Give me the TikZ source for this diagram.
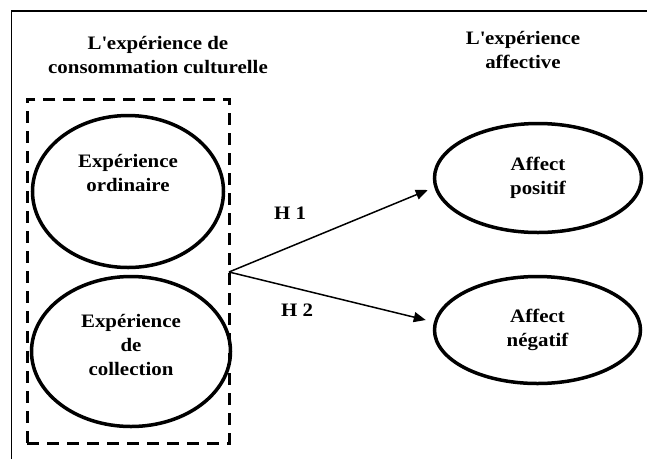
\documentclass[tikz,border=0pt]{standalone}
\usepackage{fontspec}
\setmainfont{Liberation Serif}[FakeStretch=1.1]
\usetikzlibrary{shapes.geometric,arrows.meta,calc}
\begin{document}
\begin{tikzpicture}[x=1pt,y=-1pt,
  every node/.style={font=\bfseries\fontsize{19}{24}\selectfont,align=center,inner sep=0pt},
  oval/.style={ellipse,draw,line width=3.5pt},
  link/.style={line width=1.5pt,-{Triangle[length=12pt,width=10pt]}},
  frame/.style={line width=1.6pt},
  group/.style={draw,line width=3pt,dash pattern=on 12pt off 8pt}]
  \useasboundingbox (0,0) rectangle (647,459);
  % open frame: top and left edges only
  \draw[frame] (11.5,459) -- (11.5,11) -- (647,11);
  % column titles
  \node (t1) at (158,55) {L\textquotesingle expérience de\\consommation culturelle};
  \node (t2) at (523,50) {L\textquotesingle expérience\\affective};
  % dashed grouping box
  \node[group,minimum width=202pt,minimum height=344pt] (grp) at (128.3,271) {};
  % cultural consumption experiences
  \node[oval,minimum width=191pt,minimum height=152pt,
        label={[yshift=19pt]center:Expérience\\ordinaire}] (e1) at (128,191.5) {};
  \node[oval,minimum width=199pt,minimum height=150pt,
        label={[yshift=7pt]center:Expérience\\de\\collection}] (e2) at (131,351.5) {};
  % affective experiences
  \node[oval,minimum width=207pt,minimum height=109pt] (e3) at (538,178) {Affect\\positif};
  \node[oval,minimum width=206pt,minimum height=107pt] (e4) at (537.5,330) {Affect\\négatif};
  % hypotheses
  \coordinate (src) at (229,272);
  \draw[link] (src) -- ($(e3.west)+(-5,12)$);
  \draw[link] (src) -- ($(e4.west)+(-7,-10)$);
  \node (h1) at (290,213) {H 1};
  \node (h2) at (297,310) {H 2};
\end{tikzpicture}
\end{document}
